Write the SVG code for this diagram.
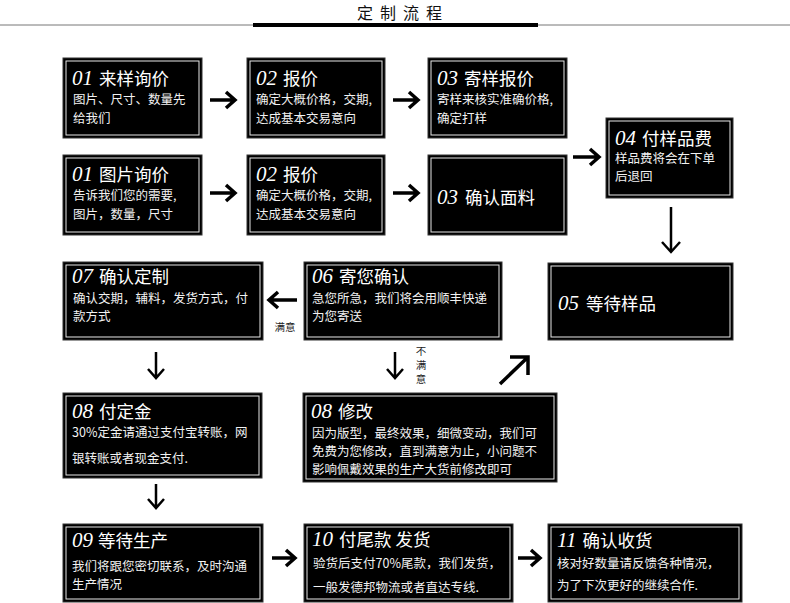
<svg xmlns="http://www.w3.org/2000/svg" width="790" height="603" viewBox="0 0 790 603">
<style>
.bg{fill:#fff}
.box{fill:#000;stroke:#333;stroke-width:1}
.inner{fill:none;stroke:#e8e8e8;stroke-width:1}
.num{font-family:"Liberation Serif","DejaVu Serif",serif;font-style:italic;font-size:21px;fill:#fff}
.tt{font-family:"Noto Sans CJK SC","Noto Sans",sans-serif;font-size:17.5px;fill:#fff}
.bd{font-family:"Noto Sans CJK SC","Noto Sans",sans-serif;font-size:12.5px;fill:#f2f2f2}
.lbl{font-family:"Noto Sans CJK SC","Noto Sans",sans-serif;font-size:10.5px;fill:#222}
.title{font-family:"Noto Sans CJK SC","Noto Sans",sans-serif;font-size:16px;fill:#111;letter-spacing:7px}
.arr{fill:none;stroke:#000;stroke-width:3.5;stroke-linejoin:miter;stroke-linecap:butt}
.arrt{fill:none;stroke:#000;stroke-width:2.5;stroke-linejoin:miter;stroke-linecap:butt}
</style>
<rect class="bg" x="0" y="0" width="790" height="603"/>
<g id="header">
<text class="title" x="403" y="19" text-anchor="middle">定制流程</text>
<line x1="0" y1="25" x2="790" y2="25" stroke="#777" stroke-width="1"/>
<line x1="253" y1="25" x2="538" y2="25" stroke="#000" stroke-width="4"/>
</g>
<g id="n01a">
<rect class="box" x="63" y="58" width="139" height="80"/><rect class="inner" x="66" y="61" width="133" height="74"/>
<text x="72" y="85"><tspan class="num">01</tspan><tspan class="tt" dx="6">来样询价</tspan></text>
<text class="bd" x="73" y="104">图片、尺寸、数量先</text>
<text class="bd" x="73" y="123">给我们</text>
</g>
<g id="n02a">
<rect class="box" x="247" y="58" width="138" height="80"/><rect class="inner" x="250" y="61" width="132" height="74"/>
<text x="256" y="85"><tspan class="num">02</tspan><tspan class="tt" dx="6">报价</tspan></text>
<text class="bd" x="256" y="104">确定大概价格，交期,</text>
<text class="bd" x="256" y="123">达成基本交易意向</text>
</g>
<g id="n03a">
<rect class="box" x="428" y="58" width="139" height="80"/><rect class="inner" x="431" y="61" width="133" height="74"/>
<text x="437" y="85"><tspan class="num">03</tspan><tspan class="tt" dx="6">寄样报价</tspan></text>
<text class="bd" x="437" y="104">寄样来核实准确价格,</text>
<text class="bd" x="437" y="123">确定打样</text>
</g>
<g id="n01b">
<rect class="box" x="63" y="155" width="139" height="80"/><rect class="inner" x="66" y="158" width="133" height="74"/>
<text x="72" y="181"><tspan class="num">01</tspan><tspan class="tt" dx="6">图片询价</tspan></text>
<text class="bd" x="73" y="200">告诉我们您的需要,</text>
<text class="bd" x="73" y="219">图片，数量，尺寸</text>
</g>
<g id="n02b">
<rect class="box" x="247" y="155" width="138" height="80"/><rect class="inner" x="250" y="158" width="132" height="74"/>
<text x="256" y="181"><tspan class="num">02</tspan><tspan class="tt" dx="6">报价</tspan></text>
<text class="bd" x="256" y="200">确定大概价格，交期,</text>
<text class="bd" x="256" y="219">达成基本交易意向</text>
</g>
<g id="n03b">
<rect class="box" x="428" y="155" width="139" height="80"/><rect class="inner" x="431" y="158" width="133" height="74"/>
<text x="437" y="204"><tspan class="num">03</tspan><tspan class="tt" dx="7">确认面料</tspan></text>
</g>
<g id="n04">
<rect class="box" x="606" y="118" width="127" height="80"/><rect class="inner" x="609" y="121" width="121" height="74"/>
<text x="615" y="145"><tspan class="num">04</tspan><tspan class="tt" dx="6">付样品费</tspan></text>
<text class="bd" x="615" y="163">样品费将会在下单</text>
<text class="bd" x="615" y="181">后退回</text>
</g>
<g id="n05">
<rect class="box" x="548" y="263" width="185" height="77"/><rect class="inner" x="551" y="266" width="179" height="71"/>
<text x="558" y="310"><tspan class="num">05</tspan><tspan class="tt" dx="7">等待样品</tspan></text>
</g>
<g id="n07">
<rect class="box" x="63" y="262" width="200" height="78"/><rect class="inner" x="66" y="265" width="194" height="72"/>
<text x="72" y="283"><tspan class="num">07</tspan><tspan class="tt" dx="6">确认定制</tspan></text>
<text class="bd" x="73" y="303">确认交期，辅料，发货方式，付</text>
<text class="bd" x="73" y="321">款方式</text>
</g>
<g id="n06">
<rect class="box" x="304" y="262" width="198" height="78"/><rect class="inner" x="307" y="265" width="192" height="72"/>
<text x="312" y="283"><tspan class="num">06</tspan><tspan class="tt" dx="6">寄您确认</tspan></text>
<text class="bd" x="312" y="303">急您所急，我们将会用顺丰快递</text>
<text class="bd" x="312" y="321">为您寄送</text>
</g>
<g id="n08a">
<rect class="box" x="63" y="393" width="199" height="85"/><rect class="inner" x="66" y="396" width="193" height="79"/>
<text x="72" y="418"><tspan class="num">08</tspan><tspan class="tt" dx="6">付定金</tspan></text>
<text class="bd" x="72" y="437">30%定金请通过支付宝转账，网</text>
<text class="bd" x="72" y="463">银转账或者现金支付.</text>
</g>
<g id="n08b">
<rect class="box" x="303" y="393" width="254" height="89"/><rect class="inner" x="306" y="396" width="248" height="83"/>
<text x="311" y="418"><tspan class="num">08</tspan><tspan class="tt" dx="6">修改</tspan></text>
<text class="bd" x="312" y="438">因为版型，最终效果，细微变动，我们可</text>
<text class="bd" x="312" y="456">免费为您修改，直到满意为止，小问题不</text>
<text class="bd" x="312" y="474">影响佩戴效果的生产大货前修改即可</text>
</g>
<g id="n09">
<rect class="box" x="63" y="524" width="200" height="78"/><rect class="inner" x="66" y="527" width="194" height="72"/>
<text x="72" y="547"><tspan class="num">09</tspan><tspan class="tt" dx="5">等待生产</tspan></text>
<text class="bd" x="72" y="571">我们将跟您密切联系，及时沟通</text>
<text class="bd" x="72" y="589">生产情况</text>
</g>
<g id="n10">
<rect class="box" x="304" y="524" width="209" height="78"/><rect class="inner" x="307" y="527" width="203" height="72"/>
<text x="312" y="546"><tspan class="num">10</tspan><tspan class="tt" dx="6">付尾款 发货</tspan></text>
<text class="bd" x="313" y="568">验货后支付70%尾款，我们发货，</text>
<text class="bd" x="313" y="592">一般发德邦物流或者直达专线.</text>
</g>
<g id="n11">
<rect class="box" x="548" y="524" width="194" height="78"/><rect class="inner" x="551" y="527" width="188" height="72"/>
<text x="557" y="547"><tspan class="num">11</tspan><tspan class="tt" dx="6">确认收货</tspan></text>
<text class="bd" x="557" y="568">核对好数量请反馈各种情况，</text>
<text class="bd" x="557" y="590">为了下次更好的继续合作.</text>
</g>
<g id="connectors">
<path class="arr" d="M210 100H234M226 92L235 100L226 108"/>
<path class="arr" d="M393 100H417M409 92L418 100L409 108"/>
<path class="arr" d="M210 193H234M226 185L235 193L226 201"/>
<path class="arr" d="M393 193H417M409 185L418 193L409 201"/>
<path class="arr" d="M573 157H598M590 149L599 157L590 165"/>
<path class="arrt" d="M671 207V252M662 242L671 252L680 242"/>
<path class="arr" d="M297 300H270M278 292L269 300L278 308"/>
<path class="arrt" d="M156 352V377M148 369L156 378L164 369"/>
<path class="arrt" d="M395 352V377M387 369L395 378L403 369"/>
<path class="arr" d="M500 384L527 358M510 357H528V375"/>
<path class="arrt" d="M156 484V507M148 499L156 508L164 499"/>
<path class="arr" d="M272 558H294M286 550L295 558L286 566"/>
<path class="arr" d="M518 558H539M531 550L540 558L531 566"/>
<text class="lbl" x="285" y="331" text-anchor="middle">满意</text>
<text class="lbl" x="421" y="355" text-anchor="middle">不</text>
<text class="lbl" x="421" y="369" text-anchor="middle">满</text>
<text class="lbl" x="421" y="383" text-anchor="middle">意</text>
</g>
</svg>
